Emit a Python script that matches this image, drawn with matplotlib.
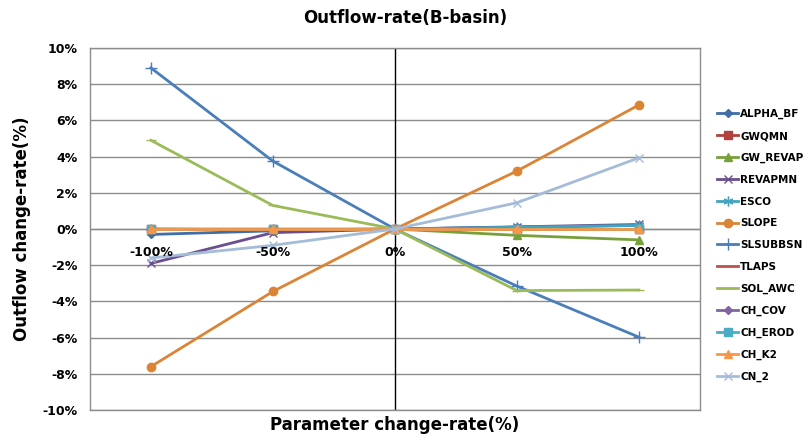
import matplotlib
matplotlib.use("Agg")
import matplotlib.pyplot as plt
from matplotlib.ticker import FuncFormatter

categories = ["-100%", "-50%", "0%", "50%", "100%"]

ALPHA_BF = [-0.3, -0.1, 0.0, 0.1, 0.2]
GWQMN = [0.0, 0.0, 0.0, 0.0, 0.0]
GW_REVAP = [0.0, -0.05, 0.0, -0.35, -0.6]
REVAPMN = [-1.9, -0.2, 0.0, 0.12, 0.25]
ESCO = [0.0, 0.0, 0.0, 0.1, 0.2]
SLOPE = [-7.6, -3.45, 0.0, 3.2, 6.85]
SLSUBBSN = [8.9, 3.75, 0.0, -3.15, -5.97]
TLAPS = [0.0, 0.0, 0.0, 0.0, 0.0]
SOL_AWC = [4.9, 1.3, 0.0, -3.4, -3.37]
CH_COV = [0.0, 0.0, 0.0, 0.0, 0.0]
CH_EROD = [0.0, 0.0, 0.0, 0.0, 0.0]
CH_K2 = [0.0, 0.0, 0.0, 0.0, 0.0]
CN_2 = [-1.6, -0.9, 0.0, 1.45, 3.93]

series = [
    ("ALPHA_BF", ALPHA_BF, "#3F6FA8", "D", 4.5),
    ("GWQMN", GWQMN, "#B0413E", "s", 5.5),
    ("GW_REVAP", GW_REVAP, "#77A03A", "^", 6),
    ("REVAPMN", REVAPMN, "#6A4E8E", "x", 6),
    ("ESCO", ESCO, "#3FA6C0", (6, 2, 0), 7),
    ("SLOPE", SLOPE, "#DB8436", "o", 6),
    ("SLSUBBSN", SLSUBBSN, "#4A7EBB", "+", 8),
    ("TLAPS", TLAPS, "#C0504D", "_", 7),
    ("SOL_AWC", SOL_AWC, "#9BBB59", "_", 7),
    ("CH_COV", CH_COV, "#8064A2", "D", 4.5),
    ("CH_EROD", CH_EROD, "#4BACC6", "s", 6),
    ("CH_K2", CH_K2, "#F79646", "^", 6),
    ("CN_2", CN_2, "#A5BCD9", "x", 6),
]

fig = plt.figure(figsize=(8.1, 4.4), dpi=100)
ax = fig.add_axes([0.111, 0.068, 0.753, 0.823])

x = list(range(len(categories)))
for name, vals, col, mk, ms in series:
    ax.plot(x, vals, color=col, lw=2.0, marker=mk, markersize=ms,
            markeredgecolor=col, markerfacecolor=col, label=name)

ax.set_xlim(-0.5, 4.5)
ax.set_ylim(-10, 10)
ax.set_yticks(range(-10, 11, 2))
ax.yaxis.set_major_formatter(FuncFormatter(lambda v, p: f"{int(v)}%"))
ax.grid(axis="y", color="#8C8C8C", lw=1.0)
ax.set_axisbelow(True)
ax.set_xticks([])
ax.tick_params(axis="y", length=0, labelsize=9, pad=9)
for lbl in ax.get_yticklabels():
    lbl.set_fontweight("bold")
ax.axvline(2, color="black", lw=1.0, zorder=1)
ax.axhline(0, color="#8C8C8C", lw=1.0, zorder=1)
for i, c in enumerate(categories):
    ax.text(i, -1.3, c, ha="center", va="center", fontsize=9, fontweight="bold")

for s in ax.spines.values():
    s.set_color("#8C8C8C")
    s.set_linewidth(1.0)

fig.text(0.5, 0.958, "Outflow-rate(B-basin)", ha="center", va="center",
         fontsize=12, fontweight="bold")
ax.set_xlabel("Parameter change-rate(%)", fontsize=12, fontweight="bold", labelpad=4)
ax.set_ylabel("Outflow change-rate(%)", fontsize=12, fontweight="bold", labelpad=8)

leg = ax.legend(loc="upper left", bbox_to_anchor=(1.022, 0.843), frameon=False,
                fontsize=7.5, handlelength=2.0, labelspacing=1.13,
                handletextpad=0.2, borderaxespad=0)
for t in leg.get_texts():
    t.set_fontweight("bold")

fig.savefig("out.png", dpi=100)
